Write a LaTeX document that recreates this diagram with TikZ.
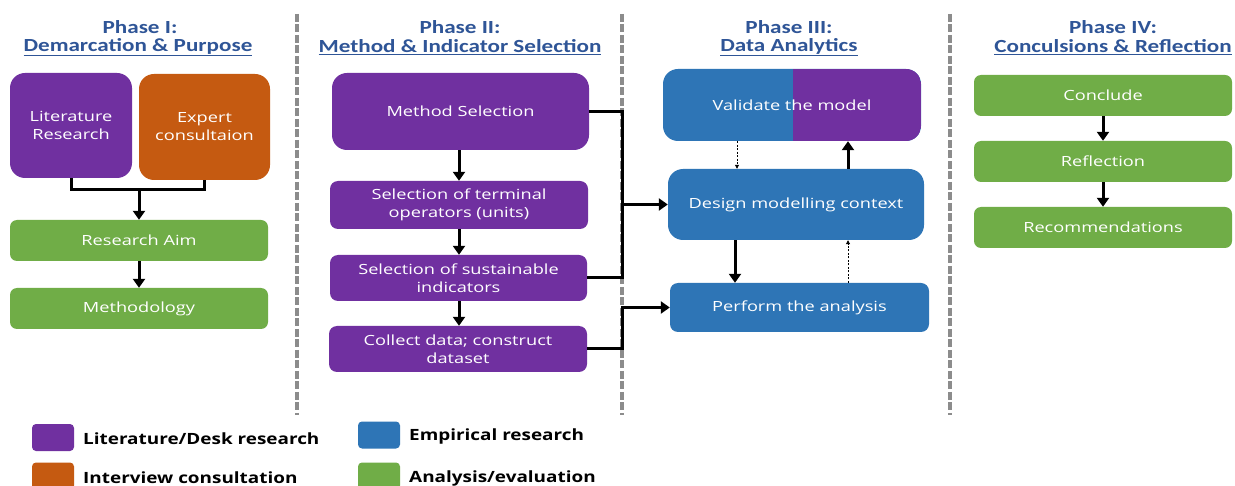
\documentclass[tikz,border=0pt]{standalone}
\usepackage{fontspec}
\setmainfont{Open Sans}
\newfontfamily\boxfont[FakeStretch=1.3]{Open Sans}
\newfontfamily\legfont[FakeStretch=1.22]{Open Sans}
\newfontfamily\headfont[FakeStretch=1.25]{Carlito}
\usetikzlibrary{arrows.meta,calc}
\definecolor{cpurple}{HTML}{7030A0}
\definecolor{corange}{HTML}{C55A11}
\definecolor{cblue}{HTML}{2E75B6}
\definecolor{cgreen}{HTML}{70AD47}
\definecolor{chead}{HTML}{2F5597}
\definecolor{cdash}{HTML}{8C8C8C}
\tikzset{
  box/.style={draw=none, text=white, align=center, font=\boxfont\fontsize{14}{18}\selectfont, inner sep=0pt},
  pbox/.style={box, fill=cpurple},
  obox/.style={box, fill=corange},
  bbox/.style={box, fill=cblue},
  gbox/.style={box, fill=cgreen, rounded corners=7pt},
  head/.style={text=chead, font=\headfont\bfseries\fontsize{18.5}{20}\selectfont, inner sep=0pt},
  conn/.style={line width=3pt, black, line join=miter},
  arr/.style={conn, -{Triangle[width=12pt,length=9pt]}},
  darr/.style={line width=0.8pt, dashed, dash pattern=on 2pt off 1.5pt, -{Triangle[width=4pt,length=4pt]}},
  sep/.style={line width=4pt, cdash, dash pattern=on 8pt off 2.5pt},
  legsq/.style={minimum width=42pt, minimum height=27pt, rounded corners=4pt, inner sep=0pt},
  legtxt/.style={anchor=west, font=\legfont\bfseries\fontsize{15.5}{18}\selectfont, inner sep=0pt}
}
\begin{document}
\begin{tikzpicture}[x=1pt,y=-1pt]
\useasboundingbox[fill=white] (0,0) rectangle (1235,486);
% separators
\draw[sep] (297,14) -- (297,415);
\draw[sep] (622,14) -- (622,415);
\draw[sep] (950,14) -- (950,415);
% headings
\node[head] (h1a) at (140,27) {Phase I:};
\node[head] (h1b) at (138,47) {\underline{Demarcation \& Purpose}};
\node[head] (h2a) at (460,27) {Phase II:};
\node[head] (h2b) at (460,47) {\underline{Method \& Indicator Selection}};
\node[head] (h3a) at (789,27) {Phase III:};
\node[head] (h3b) at (789,47) {\underline{Data Analytics}};
\node[head] (h4a) at (1113,27) {Phase IV:};
\node[head] (h4b) at (1113,47) {\underline{Conculsions \& Reflection}};
% Phase I
\node[pbox, rounded corners=15pt, minimum width=122pt, minimum height=105pt] (lit) at (71,125.5) {Literature\\Research};
\node[obox, rounded corners=15pt, minimum width=131pt, minimum height=106pt] (exp) at (204.5,127) {Expert\\consultaion};
\node[gbox, minimum width=258pt, minimum height=41pt] (aim) at (139,240.5) {Research Aim};
\node[gbox, minimum width=258pt, minimum height=41pt] (meth) at (139,308.5) {Methodology};
\coordinate (j1) at (139,190);
\draw[conn] (lit.south) |- (j1) -| (exp.south);
\draw[arr] (j1) -- (aim.north);
\draw[arr] (aim.south) -- (meth.north);
% Phase II
\node[pbox, rounded corners=15pt, minimum width=257pt, minimum height=77pt] (msel) at (460.5,111.5) {Method Selection};
\node[pbox, rounded corners=8pt, minimum width=258pt, minimum height=48pt] (term) at (459,205) {Selection of terminal\\operators (units)};
\node[pbox, rounded corners=8pt, minimum width=257pt, minimum height=46pt] (sust) at (458.5,278) {Selection of sustainable\\indicators};
\node[pbox, rounded corners=8pt, minimum width=258pt, minimum height=46pt] (coll) at (458,349) {Collect data; construct\\dataset};
\draw[arr] (msel.south -| term.north) -- (term.north);
\draw[arr] (term.south) -- (sust.north -| term.south);
\draw[arr] (sust.south -| term.south) -- (coll.north -| term.south);
% Phase III
\node[bbox, rounded corners=15pt, minimum width=258pt, minimum height=72pt,
  path picture={\fill[cpurple, sharp corners] ([xshift=1pt]path picture bounding box.south) rectangle (path picture bounding box.north east);}] (val) at (792,105) {};
\node[box] (valt) at (val.center) {Validate the model};
\node[bbox, rounded corners=15pt, minimum width=256pt, minimum height=71pt] (des) at (796,204.5) {Design modelling context};
\node[bbox, rounded corners=8pt, minimum width=259pt, minimum height=49pt] (perf) at (799.5,307.5) {Perform the analysis};
\coordinate (xa) at (737,0);
\coordinate (xb) at (848,0);
\coordinate (xc) at (735,0);
\draw[darr] (val.south -| xa) -- (des.north -| xa);
\draw[arr] (des.north -| xb) -- (val.south -| xb);
\draw[arr] (des.south -| xc) -- (perf.north -| xc);
\draw[darr] (perf.north -| xb) -- (des.south -| xb);
% Phase II -> III connectors
\coordinate (j2) at (622,204.5);
\coordinate (j3) at (622,307.5);
\draw[conn] (msel.east) -| (j2) |- (sust.east);
\draw[arr] (j2) -- (des.west);
\draw[arr] (coll.east) -| (j3) -- (perf.west);
% Phase IV
\node[gbox, minimum width=258pt, minimum height=41pt] (conc) at (1103,95.5) {Conclude};
\node[gbox, minimum width=258pt, minimum height=41pt] (refl) at (1103,161.5) {Reflection};
\node[gbox, minimum width=258pt, minimum height=41pt] (rec) at (1103,227.5) {Recommendations};
\draw[arr] (conc.south) -- (refl.north);
\draw[arr] (refl.south) -- (rec.north);
% Legend
\node[legsq, fill=cpurple] (l1) at (53,437.5) {};
\node[legtxt] (l1t) at (83,439) {Literature/Desk research};
\node[legsq, fill=corange] (l2) at (53,476) {};
\node[legtxt] (l2t) at (83,478) {Interview consultation};
\node[legsq, fill=cblue] (l3) at (379,435) {};
\node[legtxt] (l3t) at (409,436) {Empirical research};
\node[legsq, fill=cgreen] (l4) at (379,476) {};
\node[legtxt] (l4t) at (409,478) {Analysis/evaluation};
\end{tikzpicture}
\end{document}
